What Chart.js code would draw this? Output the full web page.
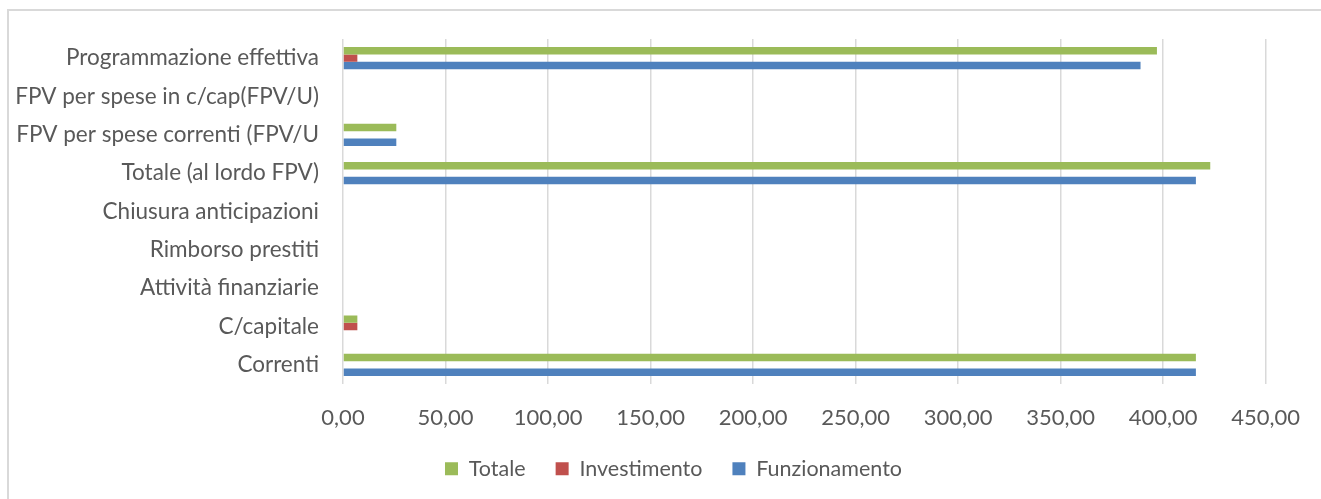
<!DOCTYPE html>
<html>
<head>
<meta charset="utf-8">
<script src="https://cdn.jsdelivr.net/npm/chart.js@4/dist/chart.umd.min.js"></script>
<style>
  html, body { margin: 0; padding: 0; background: #fff; overflow: hidden; }
  #frame { position: absolute; left: 7px; top: 9px; width: 1400px; height: 600px; border-left: 2px solid #d9d9d9; border-top: 2px solid #d9d9d9; }
  #wrap { position: absolute; left: 0; top: 0; width: 1321px; height: 499px; }
</style>
</head>
<body>
<div id="frame"></div>
<div id="wrap"><canvas id="c" width="1321" height="499"></canvas></div>
<script>
const categories = [
  "Programmazione effettiva",
  "FPV per spese in c/cap(FPV/U)",
  "FPV per spese correnti (FPV/U",
  "Totale (al lordo FPV)",
  "Chiusura anticipazioni",
  "Rimborso prestiti",
  "Attività finanziarie",
  "C/capitale",
  "Correnti"
];
const totale       = [397, 0, 26, 423, 0, 0, 0, 7, 416];
const investimento = [7, 0, 0, 0, 0, 0, 0, 7, 0];
const funzionamento = [389, 0, 26, 416, 0, 0, 0, 0, 416];
const seriesNames = ["Totale", "Investimento", "Funzionamento"];
const xTicks = [0, 50, 100, 150, 200, 250, 300, 350, 400, 450];

const FONT = "Lato, 'Liberation Sans', sans-serif";
const TXT = "#595959";

// nudge the legend box so it is centred like in the reference
const legendShift = {
  id: "legendShift",
  afterLayout(chart) {
    const lg = chart.legend;
    if (!lg) return;
    lg.left += 38; lg.right += 38;
    lg.top -= 4; lg.bottom -= 4;
  }
};

new Chart(document.getElementById("c"), {
  type: "bar",
  data: {
    labels: categories,
    datasets: [
      { label: seriesNames[0], data: totale, backgroundColor: "#9bbb59" },
      { label: seriesNames[1], data: investimento, backgroundColor: "#c0504d" },
      { label: seriesNames[2], data: funzionamento, backgroundColor: "#4f81bd" }
    ]
  },
  plugins: [legendShift],
  options: {
    indexAxis: "y",
    responsive: false,
    animation: false,
    datasets: { bar: { categoryPercentage: 0.58, barPercentage: 1.0, borderWidth: 0 } },
    layout: { padding: { left: 0, right: 50, top: 39, bottom: 5.5 } },
    scales: {
      x: {
        min: 0, max: 450,
        afterBuildTicks: (s) => { s.ticks = xTicks.map(v => ({ value: v })); },
        grid: { color: "#d9d9d9", lineWidth: 1.5, drawTicks: false },
        border: { display: false },
        ticks: {
          padding: 21,
          color: TXT,
          font: { family: FONT, size: 22 },
          maxRotation: 0,
          callback: (v) => Number(v).toFixed(2).replace(".", ",")
        },
        afterFit: (s) => { s.height = 48; }
      },
      y: {
        grid: { display: false, drawTicks: false },
        border: { display: false },
        ticks: { padding: 24, color: TXT, font: { family: FONT, size: 22.5 }, autoSkip: false },
        afterFit: (s) => { s.width = 343; }
      }
    },
    plugins: {
      legend: {
        position: "bottom",
        labels: {
          color: TXT,
          font: { family: FONT, size: 21.5 },
          boxWidth: 13, boxHeight: 13,
          padding: 30
        }
      },
      tooltip: { enabled: false }
    }
  }
});
</script>
</body>
</html>
